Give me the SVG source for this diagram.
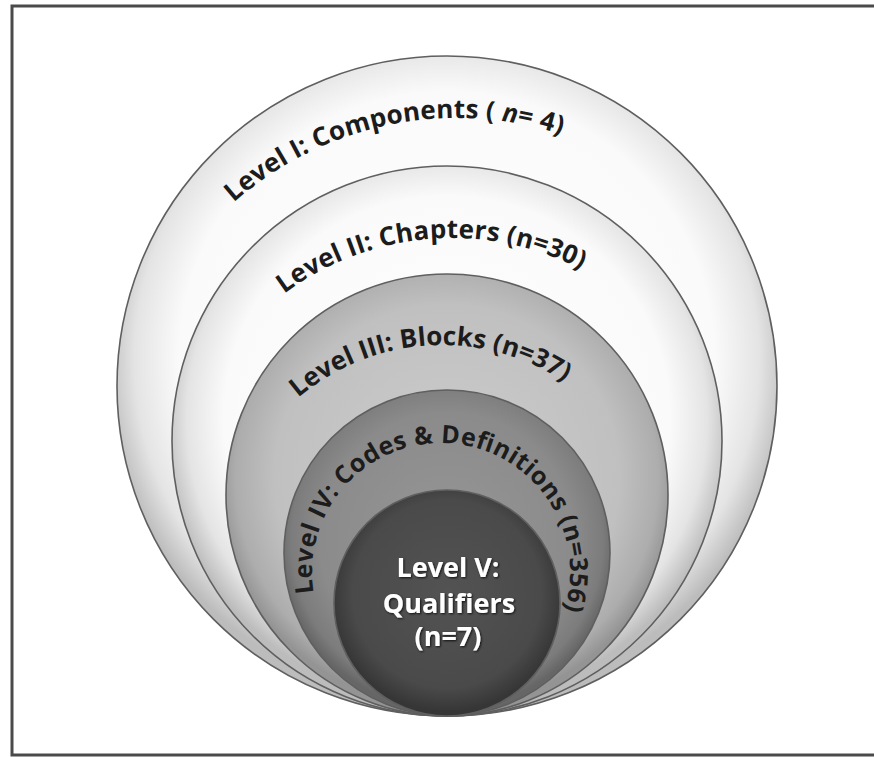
<svg xmlns="http://www.w3.org/2000/svg" width="874" height="757" viewBox="0 0 874 757">
  <style>
    .ring { stroke: #5f5f5f; stroke-width: 1.6; }
    .lbl { font-family: "Open Sans", "Liberation Sans", sans-serif; font-weight: 700; font-size: 26px; fill: #1c1c1c; }
    .inner { font-family: "Open Sans", "Liberation Sans", sans-serif; font-weight: 700; font-size: 27px; fill: #ffffff; text-anchor: middle; }
  </style>
  <defs>
    <radialGradient id="gWhite" cx="50%" cy="46%" r="52%">
      <stop offset="0%" stop-color="#ffffff"/>
      <stop offset="78%" stop-color="#fafafa"/>
      <stop offset="91%" stop-color="#e4e4e4"/>
      <stop offset="100%" stop-color="#bcbcbc"/>
    </radialGradient>
    <radialGradient id="gLight" cx="50%" cy="46%" r="52%">
      <stop offset="0%" stop-color="#cdcdcd"/>
      <stop offset="75%" stop-color="#c0c0c0"/>
      <stop offset="92%" stop-color="#adadad"/>
      <stop offset="100%" stop-color="#949494"/>
    </radialGradient>
    <radialGradient id="gMid" cx="50%" cy="46%" r="52%">
      <stop offset="0%" stop-color="#969696"/>
      <stop offset="75%" stop-color="#8b8b8b"/>
      <stop offset="92%" stop-color="#7c7c7c"/>
      <stop offset="100%" stop-color="#666666"/>
    </radialGradient>
    <radialGradient id="gDark" cx="50%" cy="46%" r="52%">
      <stop offset="0%" stop-color="#535353"/>
      <stop offset="80%" stop-color="#4a4a4a"/>
      <stop offset="100%" stop-color="#363636"/>
    </radialGradient>
    <filter id="shadow" x="-10%" y="-10%" width="120%" height="130%">
      <feDropShadow dx="1" dy="1" stdDeviation="0.8" flood-color="#000000" flood-opacity="0.8"/>
    </filter>
    <path id="p1" d="M 233.7 202.6 A 337 337 0 0 1 563.9 135.4"/>
    <path id="p2" d="M 284.1 293.7 A 281 281 0 0 1 582.2 270.0"/>
    <path id="p3" d="M 298.1 397.9 A 222 222 0 0 1 566.1 383.0"/>
    <path id="p4" d="M 313.7 592.8 A 129 129 0 1 1 563.8 611.7"/>
  </defs>

  <rect x="0" y="0" width="874" height="757" fill="#ffffff"/>
  <path d="M 874 6 H 12 V 755 H 874" fill="none" stroke="#4a4a4a" stroke-width="3"/>

  <g id="level1">
    <circle class="ring" cx="447" cy="386" r="330" fill="url(#gWhite)"/>
    <text class="lbl"><textPath href="#p1" textLength="350" lengthAdjust="spacing">Level I: Components ( <tspan font-style="italic">n</tspan>= 4)</textPath></text>
  </g>
  <g id="level2">
    <circle class="ring" cx="447" cy="441" r="275" fill="url(#gWhite)"/>
    <text class="lbl"><textPath href="#p2" textLength="314" lengthAdjust="spacing">Level II: Chapters  (n=30)</textPath></text>
  </g>
  <g id="level3">
    <circle class="ring" cx="447" cy="495" r="221" fill="url(#gLight)"/>
    <text class="lbl"><textPath href="#p3" textLength="286" lengthAdjust="spacing">Level III: Blocks (n=37)</textPath></text>
  </g>
  <g id="level4">
    <circle class="ring" cx="447" cy="553" r="163" fill="url(#gMid)"/>
    <text class="lbl" style="font-size:25px"><textPath href="#p4" textLength="464" lengthAdjust="spacing">Level IV: Codes &amp; Definitions (n=356)</textPath></text>
  </g>
  <g id="level5">
    <circle class="ring" cx="447" cy="603" r="113" fill="url(#gDark)"/>
    <text class="inner" filter="url(#shadow)"><tspan x="448" y="577">Level V:</tspan><tspan x="449" y="613">Qualifiers</tspan><tspan x="448" y="646">(n=7)</tspan></text>
  </g>
</svg>
